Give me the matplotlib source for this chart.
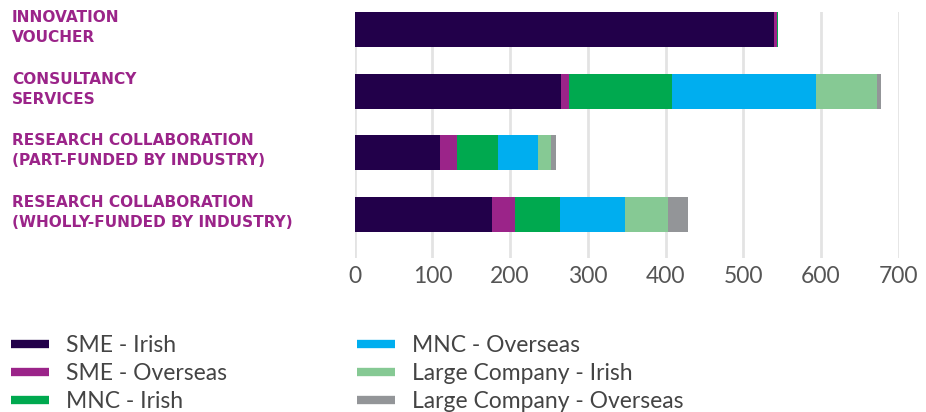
import matplotlib
matplotlib.use('Agg')
import matplotlib.pyplot as plt
from matplotlib.lines import Line2D
import numpy as np

categories = ['INNOVATION\nVOUCHER',
              'CONSULTANCY\nSERVICES',
              'RESEARCH COLLABORATION\n(PART-FUNDED BY INDUSTRY)',
              'RESEARCH COLLABORATION\n(WHOLLY-FUNDED BY INDUSTRY)']

series_names = ['SME - Irish', 'SME - Overseas', 'MNC - Irish',
                'MNC - Overseas', 'Large Company - Irish', 'Large Company - Overseas']

sme_irish = [539, 265, 110, 177]
sme_overseas = [4, 11, 22, 29]
mnc_irish = [2, 132, 53, 58]
mnc_overseas = [0, 185, 51, 84]
large_irish = [0, 79, 16, 55]
large_overseas = [0, 5, 7, 26]

colors = ['#22004a', '#9b2489', '#00a94f', '#00aeef', '#86c994', '#939598']

values = [sme_irish, sme_overseas, mnc_irish, mnc_overseas, large_irish, large_overseas]

fig = plt.figure(figsize=(9.26, 4.12), dpi=100)
ax = fig.add_axes([0.383, 0.374, 0.5876, 0.597])

y = np.arange(len(categories))
left = np.zeros(len(categories))
for vals, col, name in zip(values, colors, series_names):
    ax.barh(y, vals, left=left, height=0.57, color=col, label=name, zorder=3)
    left += np.array(vals)

ax.set_xlim(0, 700)
ax.set_ylim(3.71, -0.29)
ax.set_xticks(range(0, 701, 100))
ax.grid(axis='x', color='#e3e3e3', lw=2, zorder=0)
for s in ax.spines.values():
    s.set_visible(False)
ax.tick_params(axis='x', length=0, pad=6, labelsize=16.5, labelcolor='#555555')
ax.set_yticks([])
for lab in ax.get_xticklabels():
    lab.set_fontfamily('Lato')

# category labels on the left, in figure coords
for i, cat in enumerate(categories):
    py = ax.transData.transform((0, i))[1]
    fig.text(12 / 926, py / fig.dpi / fig.get_figheight() + 0.005, cat,
             ha='left', va='center', color='#9b2489', fontsize=11.1,
             fontweight='bold', linespacing=1.4, family='DejaVu Sans')

handles = [Line2D([0], [0], color=c, lw=6, solid_capstyle='butt') for c in colors]
leg_kw = dict(frameon=False, handlelength=1.65, handletextpad=0.75,
              labelspacing=0.3, borderaxespad=0, borderpad=0, labelcolor='#444444',
              prop={'family': 'Lato', 'size': 16.5})
leg1 = fig.legend(handles[:3], series_names[:3], loc='upper left',
                  bbox_to_anchor=(11 / 926, 1 - 335 / 412), **leg_kw)
leg2 = fig.legend(handles[3:], series_names[3:], loc='upper left',
                  bbox_to_anchor=(357 / 926, 1 - 335 / 412), **leg_kw)

fig.savefig('out.png', dpi=100)
